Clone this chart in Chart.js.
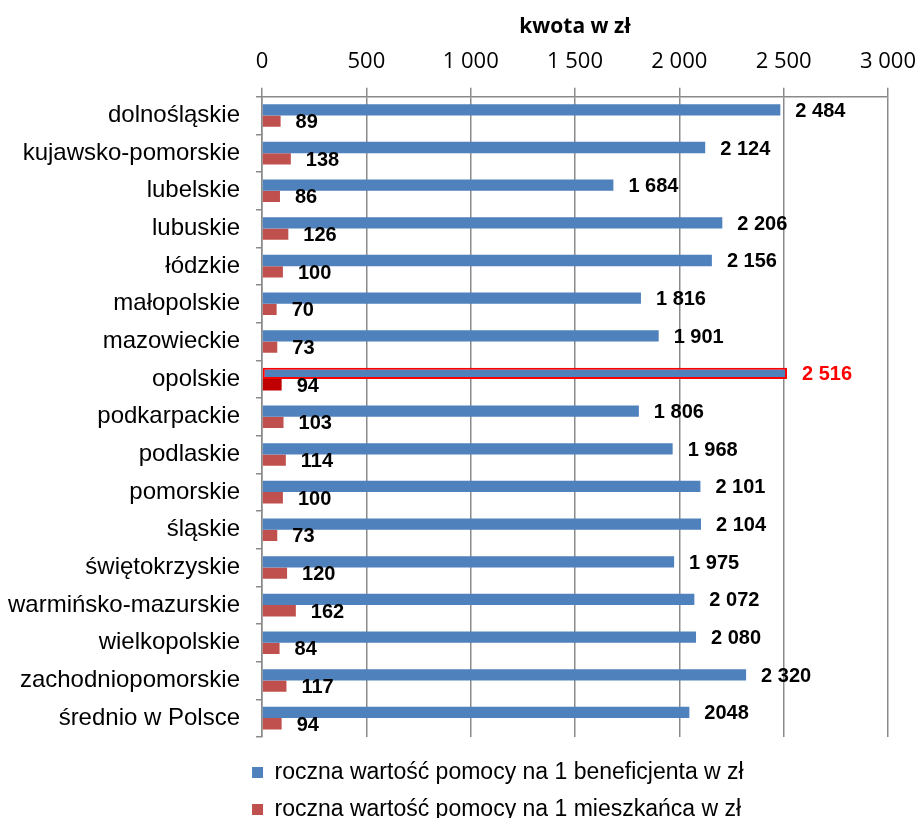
<!DOCTYPE html>
<html>
<head>
<meta charset="utf-8">
<script src="https://cdn.jsdelivr.net/npm/chart.js@4.4.0/dist/chart.umd.min.js"></script>
<style>
  html, body { margin: 0; padding: 0; background: #fff; }
  #wrap { width: 923px; height: 818px; }
</style>
</head>
<body>
<div id="wrap"><canvas id="chart"></canvas></div>
<script>
const regions = [
  "dolnośląskie", "kujawsko-pomorskie", "lubelskie", "lubuskie", "łódzkie",
  "małopolskie", "mazowieckie", "opolskie", "podkarpackie", "podlaskie",
  "pomorskie", "śląskie", "świętokrzyskie", "warmińsko-mazurskie",
  "wielkopolskie", "zachodniopomorskie", "średnio w Polsce"
];
const perBeneficiary = [2484, 2124, 1684, 2206, 2156, 1816, 1901, 2516, 1806, 1968, 2101, 2104, 1975, 2072, 2080, 2320, 2048];
const perResident = [89, 138, 86, 126, 100, 70, 73, 94, 103, 114, 100, 73, 120, 162, 84, 117, 94];
const seriesNames = [
  "roczna wartość pomocy na 1 beneficjenta w zł",
  "roczna wartość pomocy na 1 mieszkańca w zł"
];
const xTicks = [0, 500, 1000, 1500, 2000, 2500, 3000];
const highlight = "opolskie";
const average = "średnio w Polsce";

const BLUE = "#4F81BD";
const RED = "#C0504D";
const GRID = "#8a8a8a";

function fmt(v) {
  if (v < 1000) return String(v);
  return Math.floor(v / 1000) + " " + String(v % 1000).padStart(3, "0");
}

const hi = regions.indexOf(highlight);

// etykiety z wartościami przy słupkach
const valueLabels = {
  id: "valueLabels",
  afterDatasetsDraw(chart) {
    const ctx = chart.ctx;
    ctx.save();
    ctx.font = "bold 20px 'Liberation Sans', Arial, sans-serif";
    ctx.textAlign = "left";
    ctx.textBaseline = "middle";
    chart.data.datasets.forEach((ds, di) => {
      chart.getDatasetMeta(di).data.forEach((bar, i) => {
        const v = ds.data[i];
        let txt = fmt(v);
        if (di === 0 && regions[i] === average) txt = String(v);
        ctx.fillStyle = (di === 0 && i === hi) ? "#FF0000" : "#000";
        ctx.fillText(txt, bar.x + 15, bar.y + 1.5);
      });
    });
    ctx.restore();
  }
};

// przesunięcie legendy w lewo, jak w oryginale
const legendShift = {
  id: "legendShift",
  afterLayout(chart) {
    chart.legend.left -= 24;
    chart.legend.right -= 24;
  }
};

new Chart(document.getElementById("chart"), {
  type: "bar",
  data: {
    labels: regions,
    datasets: [
      {
        label: seriesNames[0],
        data: perBeneficiary,
        backgroundColor: BLUE,
        borderColor: regions.map((r, i) => i === hi ? "#FF0000" : BLUE),
        borderWidth: regions.map((r, i) => i === hi ? 2 : 0),
        borderSkipped: false
      },
      {
        label: seriesNames[1],
        data: perResident,
        backgroundColor: regions.map((r, i) => i === hi ? "#C00000" : RED),
        borderWidth: 0
      }
    ]
  },
  options: {
    indexAxis: "y",
    responsive: true,
    maintainAspectRatio: false,
    animation: false,
    categoryPercentage: 0.6,
    barPercentage: 1.0,
    layout: { padding: { top: 7.6, left: -8, right: 24, bottom: -13 } },
    scales: {
      x: {
        position: "top",
        min: 0,
        max: 3000,
        afterBuildTicks(scale) {
          scale.ticks = xTicks.map(v => ({ value: v }));
        },
        ticks: {
          callback: v => fmt(v),
          color: "#000",
          padding: 7,
          font: { family: "'Open Sans', sans-serif", size: 22, lineHeight: 1.72 }
        },
        grid: { color: GRID, lineWidth: 1.5, tickLength: 9 },
        border: { color: GRID, width: 1.5 },
        title: {
          display: true,
          text: "kwota w zł",
          color: "#000",
          padding: { top: 11.4, bottom: 0 },
          font: { family: "'Open Sans', sans-serif", size: 21, weight: "bold", lineHeight: 0.8 }
        }
      },
      y: {
        ticks: {
          color: "#000",
          padding: 16,
          font: { family: "'Liberation Sans', Arial, sans-serif", size: 24 }
        },
        grid: { drawOnChartArea: false, color: GRID, lineWidth: 1.5, tickLength: 6 },
        border: { color: GRID, width: 1.5 }
      }
    },
    plugins: {
      legend: {
        position: "bottom",
        align: "start",
        fullSize: false,
        title: { display: true, text: " ", padding: 0, font: { size: 8.4 } },
        labels: {
          boxWidth: 11,
          boxHeight: 11,
          padding: 14,
          color: "#000",
          font: { family: "'Liberation Sans', Arial, sans-serif", size: 23 }
        }
      },
      tooltip: { enabled: false }
    }
  },
  plugins: [valueLabels, legendShift]
});
</script>
</body>
</html>
